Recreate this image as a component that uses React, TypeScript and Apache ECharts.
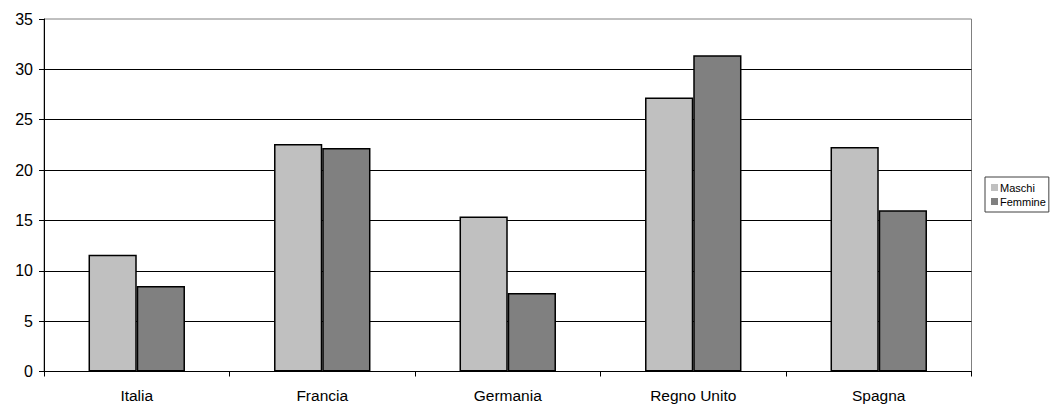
import React, { useEffect, useRef } from "react";
import * as echarts from "echarts";

const categories = ["Italia", "Francia", "Germania", "Regno Unito", "Spagna"];
const maschi = [11.6, 22.6, 15.4, 27.2, 22.3];
const femmine = [8.5, 22.2, 7.8, 31.4, 16.0];

const FONT = "'Liberation Sans', Arial, sans-serif";

export default function App() {
  const ref = useRef<HTMLDivElement>(null);

  useEffect(() => {
    if (!ref.current) return;
    const chart = echarts.init(ref.current, null, { renderer: "svg" });
    chart.setOption({
      animation: false,
      backgroundColor: "#ffffff",
      textStyle: { fontFamily: FONT },
      grid: {
        left: 44,
        right: 83.5,
        top: 19,
        bottom: 38.5,
        show: true,
        borderColor: "#808080",
        borderWidth: 1,
      },
      legend: {
        orient: "vertical",
        left: 985,
        top: 177,
        padding: [5, 3, 5, 6],
        itemGap: 3,
        itemWidth: 7,
        itemHeight: 7,
        icon: "rect",
        borderColor: "#404040",
        borderWidth: 1,
        itemStyle: { borderWidth: 0 },
        textStyle: { fontFamily: FONT, fontSize: 11, color: "#000", padding: [0, 0, 0, -3] },
        data: ["Maschi", "Femmine"],
      },
      xAxis: {
        type: "category",
        data: categories,
        boundaryGap: true,
        axisLine: { lineStyle: { color: "#000", width: 1 } },
        axisTick: { show: true, length: 5, lineStyle: { color: "#000" } },
        axisLabel: { color: "#000", fontSize: 15.5, fontFamily: FONT, margin: 16 },
        splitLine: { show: false },
      },
      yAxis: {
        type: "value",
        min: 0,
        max: 35,
        interval: 5,
        axisLine: { show: true, lineStyle: { color: "#000", width: 1 } },
        axisTick: { show: true, length: 5, lineStyle: { color: "#000" } },
        axisLabel: { color: "#000", fontSize: 16, fontFamily: FONT, margin: 11 },
        splitLine: { show: true, showMaxLine: false, lineStyle: { color: "#000", width: 1 } },
      },
      series: [
        {
          name: "Maschi",
          type: "bar",
          data: maschi,
          barGap: "0%",
          barCategoryGap: "48%",
          itemStyle: { color: "#c0c0c0", borderColor: "#000", borderWidth: 1.5 },
        },
        {
          name: "Femmine",
          type: "bar",
          data: femmine,
          barGap: "0%",
          barCategoryGap: "48%",
          itemStyle: { color: "#808080", borderColor: "#000", borderWidth: 1.5 },
        },
      ],
    });
    return () => chart.dispose();
  }, []);

  return (
    <div
      ref={ref}
      style={{ position: "fixed", left: 0, top: 0, width: 1055, height: 410 }}
    />
  );
}
